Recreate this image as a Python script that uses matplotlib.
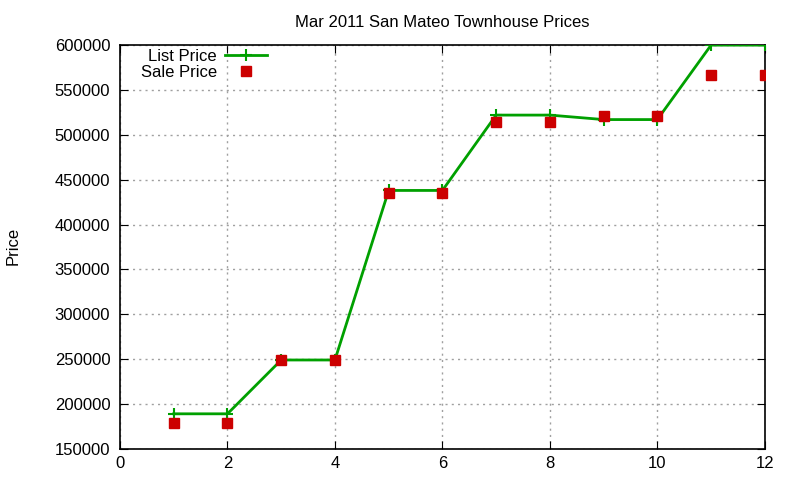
import matplotlib
matplotlib.use("Agg")
import matplotlib.pyplot as plt

months = [1, 2, 3, 4, 5, 6, 7, 8, 9, 10, 11, 12]
list_price = [189000, 189000, 249000, 249000, 438000, 438000,
              522000, 522000, 517000, 517000, 600000, 600000]
sale_price = [179000, 179000, 249000, 249000, 435000, 435000,
              514500, 514500, 521000, 521000, 567000, 567000]

plt.rcParams['font.family'] = ['Liberation Sans', 'DejaVu Sans']
plt.rcParams['font.size'] = 12

fig = plt.figure(figsize=(8, 4.8), dpi=100)
ax = fig.add_axes([0.15, 0.065, 0.806, 0.841])

ax.plot(months, list_price, color='#00a000', lw=2, marker='+', ms=9,
        mew=1.5, label='List Price', zorder=3)
ax.plot(months, sale_price, ls='none', marker='s', ms=7, color='#cc0000',
        label='Sale Price', zorder=4)

ax.set_xlim(0, 12)
ax.set_ylim(150000, 600000)
ax.set_xticks(range(0, 13, 2))
ax.set_yticks(range(150000, 600001, 50000))
ax.grid(True, color='#a0a0a0', ls=(0, (1.5, 3)), lw=1)
ax.tick_params(direction='in', top=True, right=True, length=6)
ax.tick_params(axis='y', pad=7)
ax.tick_params(axis='x', pad=5)
for s in ax.spines.values():
    s.set_linewidth(1.2)

ax.set_title('Mar 2011 San Mateo Townhouse Prices', fontsize=12, pad=13)
fig.text(0.016, 0.4875, 'Price', rotation=90, ha='center', va='center')

leg = ax.legend(loc='upper left', bbox_to_anchor=(0.014, 1.02), frameon=False,
                markerfirst=False, handlelength=2.5, borderaxespad=0.3,
                labelspacing=0.05, handletextpad=0.5)
for t in leg.get_texts():
    t.set_ha('right')

fig.savefig('out.png', dpi=100)
